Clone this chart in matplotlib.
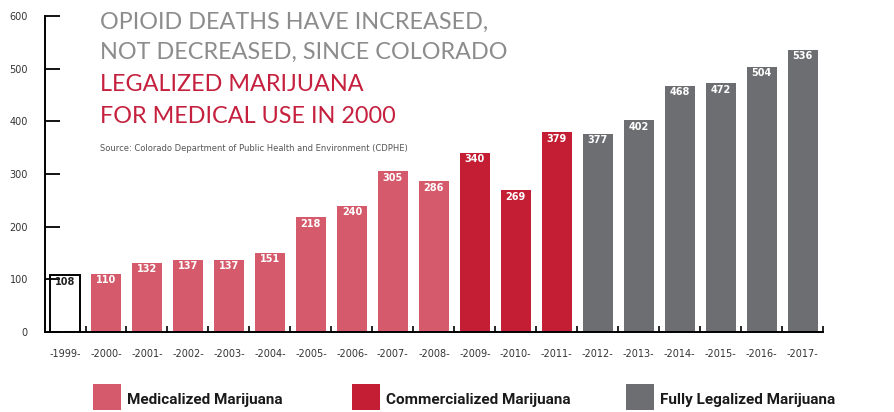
import matplotlib.pyplot as plt
from matplotlib.patches import Rectangle
import numpy as np

years = list(range(1999, 2018))
deaths = [108, 110, 132, 137, 137, 151, 218, 240, 305, 286,
          340, 269, 379, 377, 402, 468, 472, 504, 536]
eras = ["none"] + ["med"] * 9 + ["com"] * 3 + ["full"] * 6

COLORS = {"none": "white", "med": "#D55A6B", "com": "#C31E33", "full": "#6D6E71"}
legend_labels = [("med", "Medicalized Marijuana"),
                 ("com", "Commercialized Marijuana"),
                 ("full", "Fully Legalized Marijuana")]

fig = plt.figure(figsize=(8.94, 4.12), dpi=100)
ax = fig.add_axes([0.0498, 0.194, 0.871, 0.767])

x = np.arange(len(years))
for xi, val, era in zip(x, deaths, eras):
    if era == "none":
        ax.bar(xi, val, width=0.73, color="white", edgecolor="black", linewidth=1.4)
        ax.text(xi, val - 12, str(val), ha="center", va="center",
                fontsize=7, fontweight="bold", color="#222222")
    else:
        ax.bar(xi, val, width=0.73, color=COLORS[era], linewidth=0)
        ax.text(xi, val - 12, str(val), ha="center", va="center",
                fontsize=7, fontweight="bold", color="white")

ax.set_xlim(-0.5, len(years) - 0.5)
ax.set_ylim(0, 600)
ax.set_yticks([0, 100, 200, 300, 400, 500, 600])
ax.tick_params(axis="y", direction="in", length=11, width=1.3, pad=12,
               labelsize=7, labelcolor="#333333")
ax.set_xticks(x)
ax.set_xticklabels([f"-{y}-" for y in years], fontsize=7, color="#333333")
ax.tick_params(axis="x", which="major", length=0, pad=12)
ax.set_xticks(x + 0.5, minor=True)
ax.tick_params(axis="x", which="minor", direction="in", length=4, width=1.2)
for s in ["top", "right"]:
    ax.spines[s].set_visible(False)
for s in ["left", "bottom"]:
    ax.spines[s].set_linewidth(1.4)

# title block
title_kw = dict(fontsize=16.8, family="Lato", va="center")
fig.text(0.112, 0.945, "OPIOID DEATHS HAVE INCREASED,", color="#8C8C8C", **title_kw)
fig.text(0.112, 0.872, "NOT DECREASED, SINCE COLORADO", color="#8C8C8C", **title_kw)
fig.text(0.112, 0.795, "LEGALIZED MARIJUANA", color="#C5203E", **title_kw)
fig.text(0.112, 0.718, "FOR MEDICAL USE IN 2000", color="#C5203E", **title_kw)
fig.text(0.112, 0.64, "Source: Colorado Department of Public Health and Environment (CDPHE)",
         fontsize=6, color="#555555", va="center")

# legend
leg_x = [0.104, 0.394, 0.700]
for lx, (key, label) in zip(leg_x, legend_labels):
    fig.add_artist(Rectangle((lx, 0.005), 0.031, 0.063, transform=fig.transFigure,
                             color=COLORS[key], linewidth=0))
    fig.text(lx + 0.038, 0.03, label, fontsize=11, fontweight="bold",
             family="Roboto", color="#1a1a1a", va="center")

fig.savefig("out.png", dpi=100)
